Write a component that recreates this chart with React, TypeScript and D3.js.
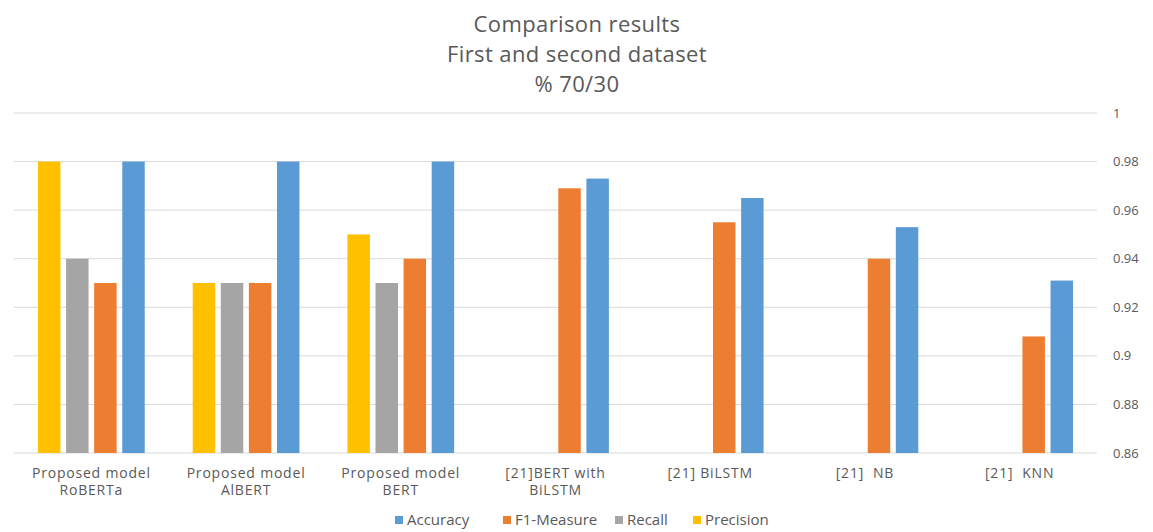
import React from "react";
import * as d3 from "d3";

const W = 1153;
const H = 532;

const titleLines = ["Comparison results", "First and second dataset", "% 70/30"];

const categories = [
  ["Proposed model", "RoBERTa"],
  ["Proposed model", "AlBERT"],
  ["Proposed model", "BERT"],
  ["[21]BERT with", "BiLSTM"],
  ["[21] BiLSTM"],
  ["[21]  NB"],
  ["[21]  KNN"],
];

// series values per category (null = not reported)
const precision: (number | null)[] = [0.98, 0.93, 0.95, null, null, null, null];
const recall: (number | null)[] = [0.94, 0.93, 0.93, null, null, null, null];
const f1Measure: (number | null)[] = [0.93, 0.93, 0.94, 0.969, 0.955, 0.94, 0.908];
const accuracy: (number | null)[] = [0.98, 0.98, 0.98, 0.973, 0.965, 0.953, 0.931];

const yTicks = [0.86, 0.88, 0.9, 0.92, 0.94, 0.96, 0.98, 1];

// drawing order inside a group (left to right)
const seriesOrder = [
  { key: "Precision", values: precision, color: "#FFC000" },
  { key: "Recall", values: recall, color: "#A5A5A5" },
  { key: "F1-Measure", values: f1Measure, color: "#ED7D31" },
  { key: "Accuracy", values: accuracy, color: "#5B9BD5" },
];

// legend order
const legendOrder = ["Accuracy", "F1-Measure", "Recall", "Precision"];

const FONT = "'Open Sans', 'DejaVu Sans', sans-serif";
const TEXT = "#595959";

export default function App() {
  const plotLeft = 14;
  const plotRight = 1097;
  const plotTop = 113;
  const plotBottom = 453;

  const x0 = d3
    .scaleBand<number>()
    .domain(d3.range(categories.length))
    .range([plotLeft, plotRight])
    .paddingInner(0.31)
    .paddingOuter(0.155);

  const x1 = d3
    .scaleBand<string>()
    .domain(seriesOrder.map((s) => s.key))
    .range([0, x0.bandwidth()])
    .paddingInner(0.2)
    .paddingOuter(0);

  const y = d3.scaleLinear().domain([0.86, 1]).range([plotBottom, plotTop]);

  const fmt = (v: number) => String(+v.toFixed(2));

  const colorOf = (k: string) => seriesOrder.find((s) => s.key === k)!.color;

  // legend item positions (marker left edge)
  const legendY = 520;
  const legendX = [395, 503, 615, 693];

  return (
    <svg
      width={W}
      height={H}
      style={{ position: "absolute", left: 0, top: 0, background: "#fff" }}
      fontFamily={FONT}
    >
      <rect width={W} height={H} fill="#fff" />
      {/* title */}
      {titleLines.map((t, i) => (
        <text
          key={t}
          x={577}
          y={32 + i * 30}
          textAnchor="middle"
          fontSize={22}
          letterSpacing={0.4}
          fill={TEXT}
        >
          {t}
        </text>
      ))}

      {/* gridlines and right axis labels */}
      {yTicks.map((v) => (
        <g key={v}>
          <line
            x1={plotLeft}
            x2={plotRight}
            y1={y(v)}
            y2={y(v)}
            stroke="#D9D9D9"
            strokeWidth={1}
          />
          <text
            x={1113}
            y={y(v)}
            dy="0.35em"
            fontSize={13}
            fill={TEXT}
          >
            {fmt(v)}
          </text>
        </g>
      ))}

      {/* bars */}
      {categories.map((_, ci) => (
        <g key={ci} transform={`translate(${x0(ci)},0)`}>
          {seriesOrder.map((s) => {
            const v = s.values[ci];
            if (v == null) return null;
            return (
              <rect
                key={s.key}
                x={x1(s.key)}
                y={y(v)}
                width={x1.bandwidth()}
                height={y(0.86) - y(v)}
                fill={s.color}
              />
            );
          })}
        </g>
      ))}

      {/* category labels */}
      {categories.map((lines, ci) => {
        const cx = (x0(ci) as number) + x0.bandwidth() / 2;
        return (
          <text
            key={ci}
            x={cx}
            y={478}
            textAnchor="middle"
            fontSize={14}
            letterSpacing={0.8}
            fill={TEXT}
            style={{ whiteSpace: "pre" }}
          >
            {lines.map((l, li) => (
              <tspan key={li} x={cx} dy={li === 0 ? 0 : 17}>
                {l}
              </tspan>
            ))}
          </text>
        );
      })}

      {/* legend */}
      {legendOrder.map((k, i) => (
        <g key={k} transform={`translate(${legendX[i]},${legendY})`}>
          <rect x={0} y={-4} width={8} height={8} fill={colorOf(k)} />
          <text x={12} y={0} dy="0.35em" fontSize={15} fill={TEXT}>
            {k}
          </text>
        </g>
      ))}
    </svg>
  );
}
